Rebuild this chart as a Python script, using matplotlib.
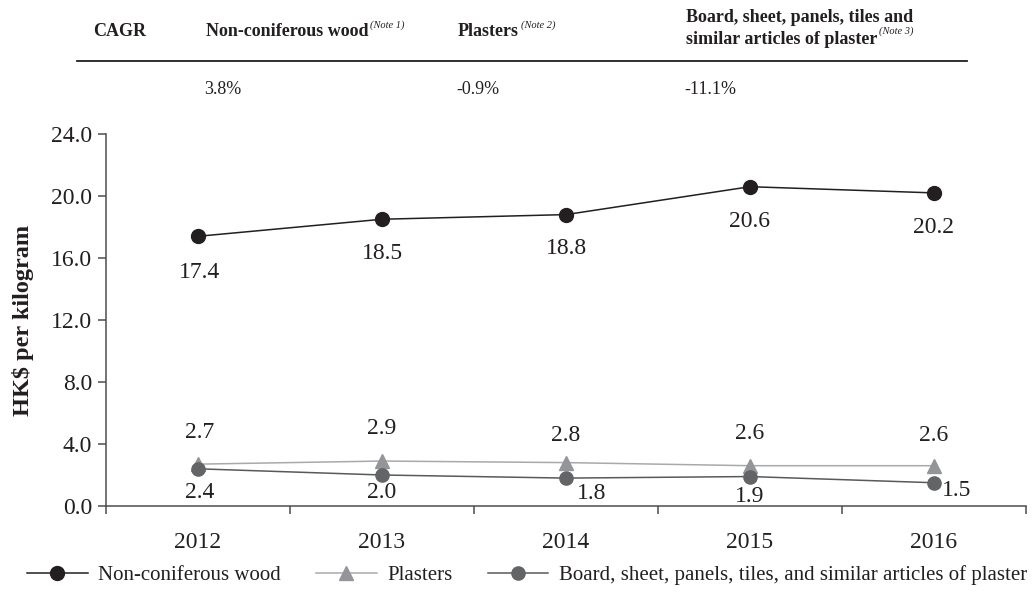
import matplotlib
matplotlib.use("Agg")
import matplotlib.pyplot as plt

# Unit values, HK$ per kilogram
years = ["2012", "2013", "2014", "2015", "2016"]
wood = [17.4, 18.5, 18.8, 20.6, 20.2]
plasters = [2.7, 2.9, 2.8, 2.6, 2.6]
board = [2.4, 2.0, 1.8, 1.9, 1.5]

series_names = ["Non-coniferous wood", "Plasters",
                "Board, sheet, panels, tiles, and similar articles of plaster"]
cagr_headers = [["Non-coniferous wood"], ["Plasters"],
                ["Board, sheet, panels, tiles and", "similar articles of plaster"]]
cagr_notes = ["(Note 1)", "(Note 2)", "(Note 3)"]
cagr_values = ["3.8%", "-0.9%", "-11.1%"]

y_ticks = [0, 4, 8, 12, 16, 20, 24]

plt.rcParams["font.family"] = ["Liberation Serif", "DejaVu Serif"]

C_WOOD = "#231f20"
C_PL_M = "#939598"
C_PL_L = "#a7a9ac"
C_BD_M = "#636466"
C_BD_L = "#58595b"
C_AXIS = "#4d4d4f"

W, H = 1033, 601
fig = plt.figure(figsize=(W / 100, H / 100), dpi=100)
ax = fig.add_axes([106 / W, 1 - 506 / H, 920 / W, 372 / H])

x = list(range(len(years)))
ax.plot(x, wood, color=C_WOOD, lw=1.1, marker="o", ms=10,
        mfc=C_WOOD, mec=C_WOOD, label=series_names[0], zorder=3)
ax.plot(x, plasters, color=C_PL_L, lw=1.1, marker="^", ms=10,
        mfc=C_PL_M, mec=C_PL_M, label=series_names[1], zorder=3)
ax.plot(x, board, color=C_BD_L, lw=1.1, marker="o", ms=9.5,
        mfc=C_BD_M, mec=C_BD_M, label=series_names[2], zorder=4)

# Value labels (offsets in pixels from each point)
wood_off = [(2, -36), (0, -34), (0, -34), (0, -35), (0, -35)]
pl_off = [(2, 32), (0, 33), (0, 27), (0, 32), (0, 30)]
bd_off = [(2, -24), (0, -18), (26, -15), (0, -20), (23, -8)]
for vals, offs in ((wood, wood_off), (plasters, pl_off), (board, bd_off)):
    for xi, v, (dx, dy) in zip(x, vals, offs):
        ax.annotate(f"{v:.1f}", (xi, v), xytext=(dx, dy),
                    textcoords="offset pixels", ha="center", va="center",
                    fontsize=17, color="#231f20", zorder=5)

ax.set_xlim(-0.5, len(years) - 0.5)
ax.set_ylim(0, 24)
ax.set_yticks(y_ticks)
ax.set_yticklabels([f"{t:.1f}" for t in y_ticks])
ax.set_xticks(x)
ax.set_xticklabels(years)
ax.set_xticks([i - 0.5 for i in range(len(years) + 1)], minor=True)
ax.tick_params(axis="x", which="major", length=0, pad=19, labelsize=17,
               colors="#231f20")
ax.tick_params(axis="x", which="minor", length=6, width=1.1, color=C_AXIS,
               direction="out")
ax.tick_params(axis="y", length=6, width=1.1, color=C_AXIS, pad=4,
               labelsize=17, labelcolor="#231f20")
for side in ("top", "right"):
    ax.spines[side].set_visible(False)
for side in ("left", "bottom"):
    ax.spines[side].set_color(C_AXIS)
    ax.spines[side].set_linewidth(1.1)
ax.spines["left"].set_bounds(0, 24)
ax.set_ylabel("HK$ per kilogram", fontsize=17.5, fontweight="bold",
              color="#231f20")
ax.yaxis.set_label_coords(-72 / 920, 0.5)

# Legend below the plot
leg = fig.legend(loc="center", bbox_to_anchor=(527 / W, 1 - 575 / H),
                 ncol=3, frameon=False, fontsize=15, handlelength=2.9,
                 handletextpad=0.5, columnspacing=1.7)
for t in leg.get_texts():
    t.set_color("#231f20")


# CAGR table above the plot
def fx(px):
    return px / W


def fy(py):
    return 1 - py / H


fig.text(fx(93), fy(32), "CAGR", fontsize=13, fontweight="bold",
         ha="left", va="center", color="#231f20")
head_x = [206, 458, 686]
for hx, lines, note, val in zip(head_x, cagr_headers, cagr_notes, cagr_values):
    line_y = [32] if len(lines) == 1 else [18, 39]
    last = None
    for ly, txt in zip(line_y, lines):
        last = fig.text(fx(hx), fy(ly), txt, fontsize=13, fontweight="bold",
                        ha="left", va="center", color="#231f20")
    fig.canvas.draw()
    bb = last.get_window_extent()
    fig.text((bb.x1 + 2) / W, (bb.y0 + 11) / H, note,
             fontsize=7.5, fontstyle="italic", ha="left", va="bottom",
             color="#231f20")
    fig.text(fx(hx - 2), fy(89), val, fontsize=13, ha="left", va="center",
             color="#231f20")

fig.add_artist(plt.Line2D([fx(77), fx(967)], [fy(61), fy(61)],
                          color="#231f20", lw=1.3))

fig.savefig("out.png", dpi=100)
